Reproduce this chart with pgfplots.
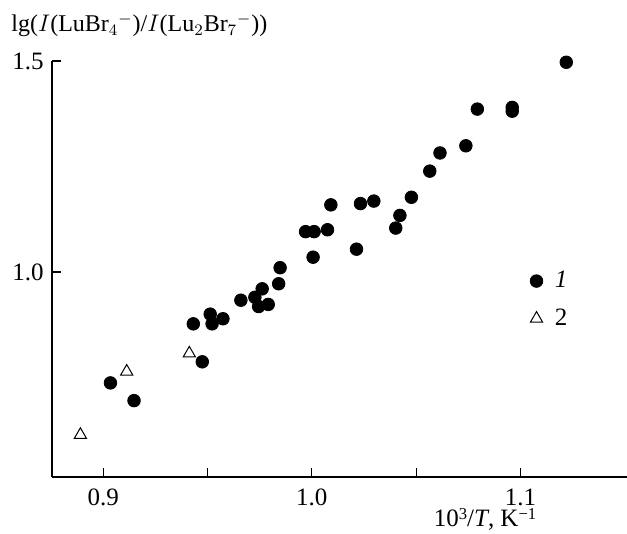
\documentclass[border=0pt]{standalone}
\usepackage{pgfplots}
\pgfplotsset{compat=1.18}
\usepackage{fontspec}
\setmainfont{Liberation Serif}
\newcommand{\mysup}[1]{\raisebox{0.28em}{\fontsize{8.3}{8.3}\selectfont #1}}
\begin{document}
\begin{tikzpicture}
\begin{axis}[
  name=ax,
  scale only axis,
  width=287.5pt, height=208pt,
  xmin=0.8755, xmax=1.151,
  ymin=0.514, ymax=1.5,
  axis x line*=bottom, axis y line*=left,
  axis line style={line width=0.8pt, -},
  xtick={0.9,0.95,1.0,1.05,1.1},
  xticklabels={0.9,,1.0,,1.1},
  ytick={1.0,1.5},
  yticklabels={1.0,1.5},
  tick align=inside,
  major tick length=4.7pt,
  tick style={line width=0.6pt, black},
  ticklabel style={font=\fontsize{12.5}{14}\selectfont},
  xticklabel style={inner sep=0pt, yshift=-5.8pt},
  yticklabel style={inner sep=0pt, xshift=-4pt},
  /pgf/number format/assume math mode=true,
  clip=false,
  legend style={draw=none, fill=none, at={(rel axis cs:0.831,0.505)}, anchor=north west,
    font=\fontsize{12.5}{14}\selectfont, row sep=5pt, inner sep=0pt},
  legend cell align=left,
]
\addplot[only marks, mark=*, mark size=3.15pt, black] coordinates {
(0.9035,0.737) (0.9148,0.695) (0.9475,0.787) (0.9432,0.877) (0.9513,0.900)
(0.9522,0.877) (0.9574,0.889) (0.9660,0.933) (0.9727,0.940) (0.9762,0.960)
(0.9745,0.918) (0.9791,0.923) (0.9841,0.972) (0.9848,1.010) (0.9970,1.0955)
(1.0011,1.0955) (1.0006,1.035) (1.0075,1.100) (1.0091,1.159) (1.0214,1.054)
(1.0233,1.162) (1.0297,1.168) (1.0402,1.104) (1.0422,1.134) (1.0477,1.177)
(1.0565,1.239) (1.0614,1.282) (1.0738,1.299) (1.0793,1.386) (1.0960,1.390)
(1.0960,1.381) (1.1219,1.497)
};
\addlegendentry{\hspace{4pt}\textit{1}}
\addplot[only marks, mark=triangle, mark size=3.5pt, black, mark options={line width=0.5pt}] coordinates {
(0.8891,0.614) (0.9113,0.764) (0.9413,0.807)
};
\addlegendentry{\hspace{4pt}2}
\node[anchor=base west, inner sep=0pt, font=\fontsize{12}{14}\selectfont] at ([xshift=-20.5pt, yshift=14.5pt]rel axis cs:0,1) {lg($I$(LuBr$_4{}^{-}$)/$I$(Lu$_2$Br$_7{}^{-}$))};
\node[anchor=base east, inner sep=0pt, font=\fontsize{12.5}{14}\selectfont] at ([yshift=-25pt]axis cs:1.1077,0.514) {10\mysup{3}/\textit{T}, K\mysup{−1}};
\end{axis}
\pgfresetboundingbox
\path ([xshift=-26pt, yshift=-28.5pt]ax.south west) rectangle ([yshift=30.5pt]ax.north east);
\end{tikzpicture}
\end{document}
